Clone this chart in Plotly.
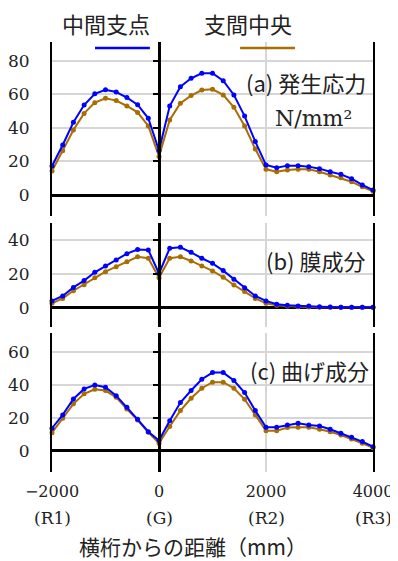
import plotly.graph_objects as go

# ---- data ----
X = [-2000, -1800, -1600, -1400, -1200, -1000, -800, -600, -400, -200, 0,
     200, 400, 600, 800, 1000, 1200, 1400, 1600, 1800, 2000,
     2200, 2400, 2600, 2800, 3000, 3200, 3400, 3600, 3800, 4000]

a_blue = [17.3, 29.8, 43.3, 53.6, 60.3, 62.7, 61.3, 58.0, 53.8, 45.7, 26.5,
          53.0, 64.5, 69.5, 72.5, 72.5, 68.1, 59.6, 47.0, 31.8, 17.9,
          16.3, 17.5, 17.5, 16.9, 15.7, 13.9, 12.3, 9.7, 6.0, 3.0]
a_brown = [14.3, 26.4, 38.7, 48.6, 55.0, 57.6, 56.2, 53.0, 49.2, 41.1, 23.0,
           44.7, 54.6, 59.2, 62.5, 62.9, 59.6, 52.2, 41.1, 27.4, 15.3,
           13.9, 14.9, 15.3, 15.3, 13.9, 11.9, 10.3, 7.9, 4.9, 2.2]

b_blue = [4.0, 6.9, 12.0, 16.0, 20.9, 24.6, 28.2, 31.9, 34.3, 34.1, 20.2,
          35.1, 35.7, 32.7, 29.2, 26.2, 21.9, 16.8, 11.8, 6.9, 4.0,
          2.0, 1.4, 1.0, 1.0, 0.6, 0.4, 0.3, 0.3, 0.2, 0.2]
b_brown = [2.6, 5.5, 10.0, 13.6, 17.7, 21.3, 24.2, 27.2, 30.1, 29.2, 17.7,
           29.2, 30.1, 27.6, 24.6, 21.7, 18.0, 13.4, 9.5, 5.5, 2.6,
           1.4, 1.0, 0.6, 0.4, 0.3, 0.3, 0.2, 0.2, 0.2, 0.2]

c_blue = [13.8, 21.9, 31.6, 37.7, 40.1, 38.7, 33.6, 26.6, 19.2, 11.7, 6.3,
          18.4, 29.4, 36.7, 43.6, 47.6, 47.6, 42.8, 35.5, 24.5, 14.4,
          14.4, 15.8, 16.8, 15.8, 15.2, 13.2, 10.7, 8.3, 5.7, 2.6]
c_brown = [11.1, 19.9, 28.6, 34.7, 37.5, 36.7, 32.6, 25.5, 18.8, 11.3, 4.7,
           14.8, 24.5, 32.0, 38.1, 41.8, 41.8, 38.1, 31.4, 21.9, 12.2,
           12.2, 14.2, 14.4, 14.4, 13.2, 11.7, 9.7, 7.3, 4.7, 2.0]

series_names = ["中間支点", "支間中央"]
panel_titles = ["(a) 発生応力", "(b) 膜成分", "(c) 曲げ成分"]
unit_label = "N/mm²"
x_tickvals = [-2000, 0, 2000, 4000]
x_ticktext = ["−2000", "0", "2000", "4000"]
x_sublabels = ["(R1)", "(G)", "(R2)", "(R3)"]
x_title = "横桁からの距離（mm）"
y_ticks = [[0, 20, 40, 60, 80], [0, 20, 40], [0, 20, 40, 60]]

# ---- style ----
BLUE = "#0000FF"
BROWN = "#A86E00"
GRID = "#d6d6d6"
SERIF = "DejaVu Serif"
JP = "Noto Sans CJK JP"
TXT = "#222222"

y_ranges = [[-12.5, 91.1], [-11.4, 50.2], [-12.8, 71.5]]
y_domains = [[0.5953, 1.0], [0.3372, 0.5798], [0.0, 0.3226]]

fig = go.Figure()
panels = [(a_blue, a_brown), (b_blue, b_brown), (c_blue, c_brown)]
for i, (yb, yr) in enumerate(panels):
    xa = "x" if i == 0 else f"x{i+1}"
    ya = "y" if i == 0 else f"y{i+1}"
    for vals, col, nm in [(yr, BROWN, series_names[1]), (yb, BLUE, series_names[0])]:
        fig.add_trace(go.Scatter(
            x=X, y=vals, xaxis=xa, yaxis=ya, mode="lines+markers", name=nm,
            line=dict(color=col, width=2), marker=dict(color=col, size=5),
            showlegend=False, cliponaxis=False))

# page body has an 8px margin, so the figure is 390x553 and shifted by 8px
layout = dict(
    width=390, height=553,
    margin=dict(l=44, r=25, t=34, b=89, autoexpand=False),
    paper_bgcolor="white", plot_bgcolor="white",
    showlegend=False,
)
for i in range(3):
    xk = "xaxis" if i == 0 else f"xaxis{i+1}"
    yk = "yaxis" if i == 0 else f"yaxis{i+1}"
    ya = "y" if i == 0 else f"y{i+1}"
    layout[xk] = dict(
        domain=[0, 1], anchor=ya, range=[-2000, 4000], automargin=False,
        tickvals=x_tickvals, ticktext=x_ticktext,
        showticklabels=(i == 2), ticks="", showgrid=True, gridcolor=GRID,
        gridwidth=1.5, zeroline=False, showline=False,
        tickfont=dict(family=SERIF, size=16, color=TXT),
        ticklabelstandoff=8, ticklabeloverflow="allow",
    )
    if i < 2:
        layout[xk]["matches"] = "x3"
    layout[yk] = dict(
        domain=y_domains[i], anchor="x" if i == 0 else f"x{i+1}",
        range=y_ranges[i], tickvals=y_ticks[i], showgrid=True, gridcolor=GRID,
        gridwidth=1.5, zeroline=True, zerolinecolor="black", zerolinewidth=3,
        showline=True, mirror=True, linecolor="black", linewidth=2, ticks="",
        tickfont=dict(family=SERIF, size=17, color=TXT), automargin=False,
        ticklabelstandoff=17,
    )
    ok = f"yaxis{i+4}"
    layout[ok] = dict(
        overlaying=ya, anchor="free", position=1/3, side="left",
        range=y_ranges[i], tickvals=y_ticks[i], showgrid=False, zeroline=False,
        showline=True, linecolor="black", linewidth=3, ticks="outside",
        ticklen=5, tickwidth=2, tickcolor="black", showticklabels=False,
        automargin=False,
    )
fig.update_layout(**layout)

for i in range(3):
    fig.add_trace(go.Scatter(x=[X[0]], y=[0], xaxis="x" if i == 0 else f"x{i+1}",
                             yaxis=f"y{i+4}", mode="markers",
                             marker=dict(opacity=0), showlegend=False,
                             hoverinfo="skip"))

ann = []
ann.append(dict(text=panel_titles[0], x=0.9844, y=0.907, xanchor="right"))
ann.append(dict(text=panel_titles[1], x=0.981, y=0.493, xanchor="right"))
ann.append(dict(text=panel_titles[2], x=0.994, y=0.237, xanchor="right"))
for a in ann:
    a.update(xref="paper", yref="paper", yanchor="middle", showarrow=False,
             font=dict(family=JP, size=22, color=TXT))
ann.append(dict(text=unit_label, x=0.816, y=0.822, xref="paper", yref="paper",
                xanchor="center", yanchor="middle", showarrow=False,
                font=dict(family=SERIF, size=22, color=TXT)))
for nm, xc in zip(series_names, [0.168, 0.612]):
    ann.append(dict(text=nm, x=xc, y=1.0453, xref="paper", yref="paper",
                    xanchor="center", yanchor="middle", showarrow=False,
                    borderpad=0, font=dict(family=JP, size=22, color=TXT)))
for xv, lab in zip(x_tickvals, x_sublabels):
    ann.append(dict(text=lab, x=xv, y=-0.107, xref="x3", yref="paper",
                    xanchor="center", yanchor="middle", showarrow=False,
                    font=dict(family=SERIF, size=17, color=TXT)))
ann.append(dict(text=x_title, x=0.439, y=-0.172, xref="paper", yref="paper",
                xanchor="center", yanchor="middle", showarrow=False,
                font=dict(family=JP, size=21, color=TXT)))
fig.update_layout(annotations=ann)

shapes = []
for col, (x0, x1) in zip([BLUE, BROWN], [(0.134, 0.305), (0.586, 0.757)]):
    shapes.append(dict(type="line", xref="paper", yref="paper", x0=x0, x1=x1,
                       y0=0.986, y1=0.986, line=dict(color=col, width=2.5)))
fig.update_layout(shapes=shapes)

fig.write_html("out.html")
